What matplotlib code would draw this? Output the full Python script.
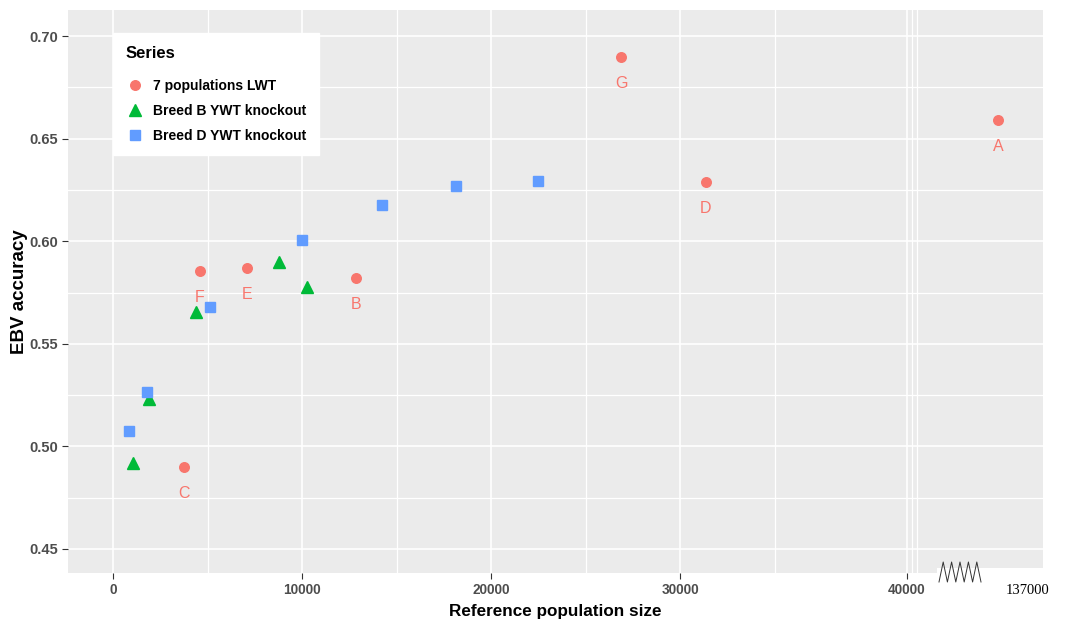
import numpy as np
import matplotlib
matplotlib.use('Agg')
import matplotlib.pyplot as plt
from matplotlib.ticker import FixedLocator, NullFormatter
from matplotlib.lines import Line2D

plt.rcParams['font.family'] = ['Liberation Sans', 'DejaVu Sans']

# Data
lwt_x = [26875, 137000, 31330, 12870, 7090, 4590, 3770]
lwt_y = [0.6898, 0.6591, 0.6289, 0.5822, 0.5868, 0.5855, 0.4898]
lwt_labels = ['G', 'A', 'D', 'B', 'E', 'F', 'C']

breed_b_x = [1040, 1885, 4380, 8760, 10240]
breed_b_y = [0.4918, 0.5232, 0.5656, 0.5900, 0.5778]

breed_d_x = [860, 1810, 5120, 9980, 14200, 18110, 22490]
breed_d_y = [0.5077, 0.5267, 0.5681, 0.6006, 0.6176, 0.6269, 0.6293]

series_names = ['7 populations LWT', 'Breed B YWT knockout', 'Breed D YWT knockout']
x_ticks = [0, 10000, 20000, 30000, 40000]
y_ticks = [0.45, 0.50, 0.55, 0.60, 0.65, 0.70]

RED, GREEN, BLUE = '#F8766D', '#00BA38', '#619CFF'

# piecewise x scale: linear to 35000, stretched to 40000, then compressed
data_anchor = np.array([-1e6, 35000, 40000, 137000, 1e6])
scaled_anchor = np.array([-1e6, 35000, 41980, 46790, 46790 + (1e6 - 137000) * 0.04959])


def fwd(x):
    return np.interp(x, data_anchor, scaled_anchor)


def inv(x):
    return np.interp(x, scaled_anchor, data_anchor)


W, H = 1067, 620
fig = plt.figure(figsize=(W / 100, H / 100), dpi=100)
ax = fig.add_axes([68 / W, 1 - 573 / H, 975 / W, 563 / H])
ax.set_xscale('function', functions=(fwd, inv))
ax.set_xlim(-2379, 185000)
ax.set_ylim(0.4383, 0.7127)

ax.set_facecolor('#EBEBEB')
for s in ax.spines.values():
    s.set_visible(False)

ax.xaxis.set_major_locator(FixedLocator(x_ticks))
ax.xaxis.set_minor_locator(FixedLocator([5000, 15000, 25000, 35000, 45320, 50650]))
ax.yaxis.set_major_locator(FixedLocator(y_ticks))
ax.yaxis.set_minor_locator(FixedLocator([0.475, 0.525, 0.575, 0.625, 0.675]))
ax.xaxis.set_minor_formatter(NullFormatter())
ax.set_xticklabels([str(t) for t in x_ticks], fontsize=9.8, fontweight='bold')
ax.set_yticklabels(['%.2f' % t for t in y_ticks], fontsize=10.5, fontweight='bold')

ax.grid(which='major', color='white', linewidth=1.2)
ax.grid(which='minor', color='white', linewidth=0.9)
ax.set_axisbelow(True)
ax.tick_params(which='major', length=4, width=0.8, color='#333333',
               labelcolor='#4D4D4D', pad=3)
ax.tick_params(which='minor', length=0)

ax.plot(lwt_x, lwt_y, 'o', color=RED, markersize=6.9, linestyle='none')
ax.plot(breed_b_x, breed_b_y, '^', color=GREEN, markersize=8.0, linestyle='none')
ax.plot(breed_d_x, breed_d_y, 's', color=BLUE, markersize=7.4, linestyle='none')

for x, y, t in zip(lwt_x, lwt_y, lwt_labels):
    ax.annotate(t, (x, y), xytext=(0, -19), textcoords='offset points',
                ha='center', va='center', color=RED, fontsize=11.5)

ax.set_xlabel('Reference population size', fontsize=12.3, fontweight='bold', labelpad=5)
ax.set_ylabel('EBV accuracy', fontsize=13.5, fontweight='bold', labelpad=1)

handles = [
    Line2D([], [], marker='o', color=RED, linestyle='none', markersize=6.9),
    Line2D([], [], marker='^', color=GREEN, linestyle='none', markersize=8.0),
    Line2D([], [], marker='s', color=BLUE, linestyle='none', markersize=7.4),
]
leg = ax.legend(handles, series_names, title='Series', loc='upper left',
                bbox_to_anchor=(113 / W, 1 - 33 / H), bbox_transform=fig.transFigure,
                frameon=True, fancybox=False, edgecolor='white', facecolor='white',
                framealpha=1, prop={'size': 10, 'weight': 'bold'},
                title_fontproperties={'size': 12, 'weight': 'bold'},
                alignment='left', labelspacing=0.8, handlelength=1.4,
                handletextpad=0.6, borderpad=0.9, borderaxespad=0)
leg._legend_box.sep = 13

# axis break decoration
fig.patches.append(plt.Rectangle((937 / W, 1 - 574 / H), 108 / W, 6 / H,
                                 transform=fig.transFigure, facecolor='white',
                                 edgecolor='none', zorder=5))
zx = np.linspace(939, 981, 11) / W
zy = np.array([582, 562] * 5 + [582]) / H
fig.add_artist(Line2D(zx, 1 - zy, color='#333333', linewidth=0.7, zorder=6))
fig.text(1028 / W, 1 - 590 / H, '137000', ha='center', va='center',
         fontsize=10.5, family='Liberation Serif', color='black')

fig.savefig('out.png', dpi=100)
